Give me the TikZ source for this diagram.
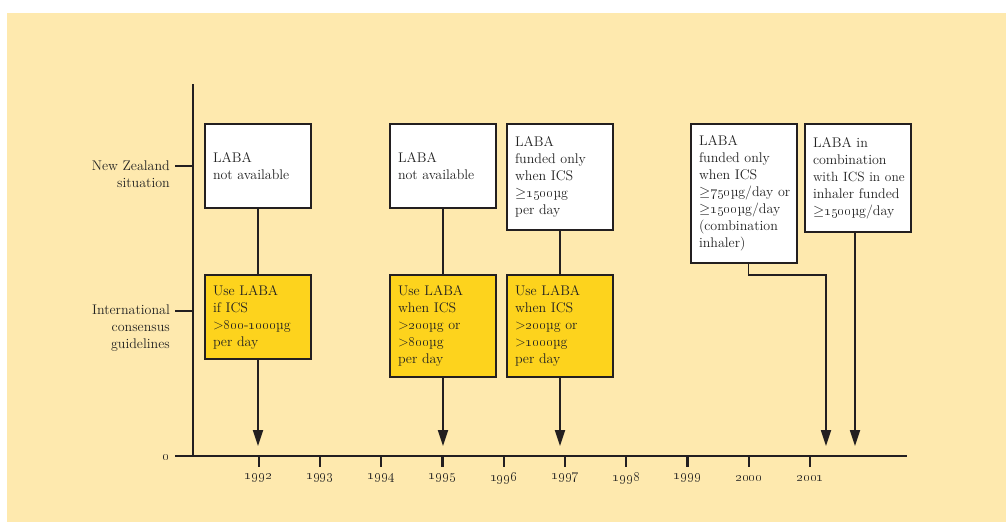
\documentclass[tikz,border=0pt]{standalone}
\usetikzlibrary{arrows.meta}
\definecolor{bg}{HTML}{FEE9AE}
\definecolor{ybox}{HTML}{FDD31D}
\definecolor{ink}{HTML}{231F20}
\definecolor{txt}{HTML}{222222}
\newcommand{\os}[1]{{\fontsize{15.5}{17}\selectfont\oldstylenums{#1}}}
\newcommand{\gqs}{$\geq$}
\begin{document}
\begin{tikzpicture}[x=1pt,y=-1pt,
  lbl/.style={text=txt,font=\fontsize{14}{17}\selectfont,inner sep=0pt},
  box/.style={draw=ink,line width=1.8pt,rectangle,inner xsep=8pt,inner ysep=0pt,
    align=left,anchor=center,text=txt,font=\fontsize{14}{17}\selectfont},
  wbox/.style={box,fill=white},
  ybx/.style={box,fill=ybox},
  axis/.style={draw=ink,line width=2.2pt},
  conn/.style={draw=ink,line width=1.8pt},
  arr/.style={conn,-{Triangle[length=16pt,width=10pt]}}]
\useasboundingbox (0,0) rectangle (1006,522);
\fill[bg] (7,13) rectangle (1006,522);

% axes
\coordinate (ytop) at (193,84);
\coordinate (orig) at (193,456);
\coordinate (xl) at (175,456);
\coordinate (xr) at (906.5,456);
\draw[axis] (ytop) -- (orig);
\draw[axis] (xl) -- (xr);
\node[lbl,anchor=center] (zero) at (166,457) {\os{0}};

% left labels
\coordinate (nzt0) at (175,166); \coordinate (nzt1) at (193,166);
\coordinate (ict0) at (175,311); \coordinate (ict1) at (193,311);
\draw[axis] (nzt0) -- (nzt1);
\draw[axis] (ict0) -- (ict1);
\node[lbl,anchor=east,align=right] (nzl) at (170,174.5) {New Zealand\\situation};
\node[lbl,anchor=east,align=right] (icl) at (170,328) {International\\consensus\\guidelines};

% year ticks
\foreach \yr [count=\i from 0] in {1992,...,2001}{
  \coordinate (t\yr) at ({258.7+61.27*\i},456);
  \draw[axis] (t\yr) -- ++(0,11);
  \node[lbl,anchor=center] (y\yr) at ({258.7+61.27*\i},478) {\os{\yr}};
}

% boxes
\node[wbox,text width=90pt,minimum height=84pt] (w1) at (258,166) {LABA\\not available};
\node[ybx,text width=90pt,minimum height=84pt] (y1) at (258,317) {Use LABA\\if ICS\\\mbox{>\os{800}-\os{1000}µg}\\per day};
\node[wbox,text width=90pt,minimum height=84pt] (w2) at (443,166) {LABA\\not available};
\node[ybx,text width=90pt,minimum height=102pt] (y2) at (443,326) {Use LABA\\when ICS\\\mbox{>\os{200}µg or}\\>\os{800}µg\\per day};
\node[wbox,text width=90pt,minimum height=106pt] (w3) at (560,177) {LABA\\funded only\\when ICS\\\gqs\os{1500}µg\\per day};
\node[ybx,text width=90pt,minimum height=102pt] (y3) at (560,326) {Use LABA\\when ICS\\\mbox{>\os{200}µg or}\\>\os{1000}µg\\per day};
\node[wbox,text width=90pt,minimum height=139pt] (w4) at (744,193.5) {LABA\\funded only\\when ICS\\\mbox{\gqs\os{750}µg/day or}\\\mbox{\gqs\os{1500}µg/day}\\(combination\\inhaler)};
\node[wbox,text width=90pt,minimum height=108pt] (w5) at (858,178) {LABA in\\combination\\\mbox{\fontsize{13.4}{17}\selectfont with ICS in one}\\\mbox{inhaler funded}\\\mbox{\gqs\os{1500}µg/day}};

% arrow ends
\coordinate (a1) at (258,446);
\coordinate (a2) at (443,446);
\coordinate (a3) at (560,446);
\coordinate (a4) at (826,446);
\coordinate (a5) at (855,446);
\coordinate (k4) at (748.5,275);

% connectors
\draw[conn] (w1.south) -- (y1.north);
\draw[conn] (w2.south) -- (y2.north);
\draw[conn] (w3.south) -- (y3.north);
\draw[arr] (y1.south) -- (a1);
\draw[arr] (y2.south) -- (a2);
\draw[arr] (y3.south) -- (a3);
\draw[arr] (w4.south -| k4) -- (k4) -| (a4);
\draw[arr] (w5.south -| a5) -- (a5);
\end{tikzpicture}
\end{document}
